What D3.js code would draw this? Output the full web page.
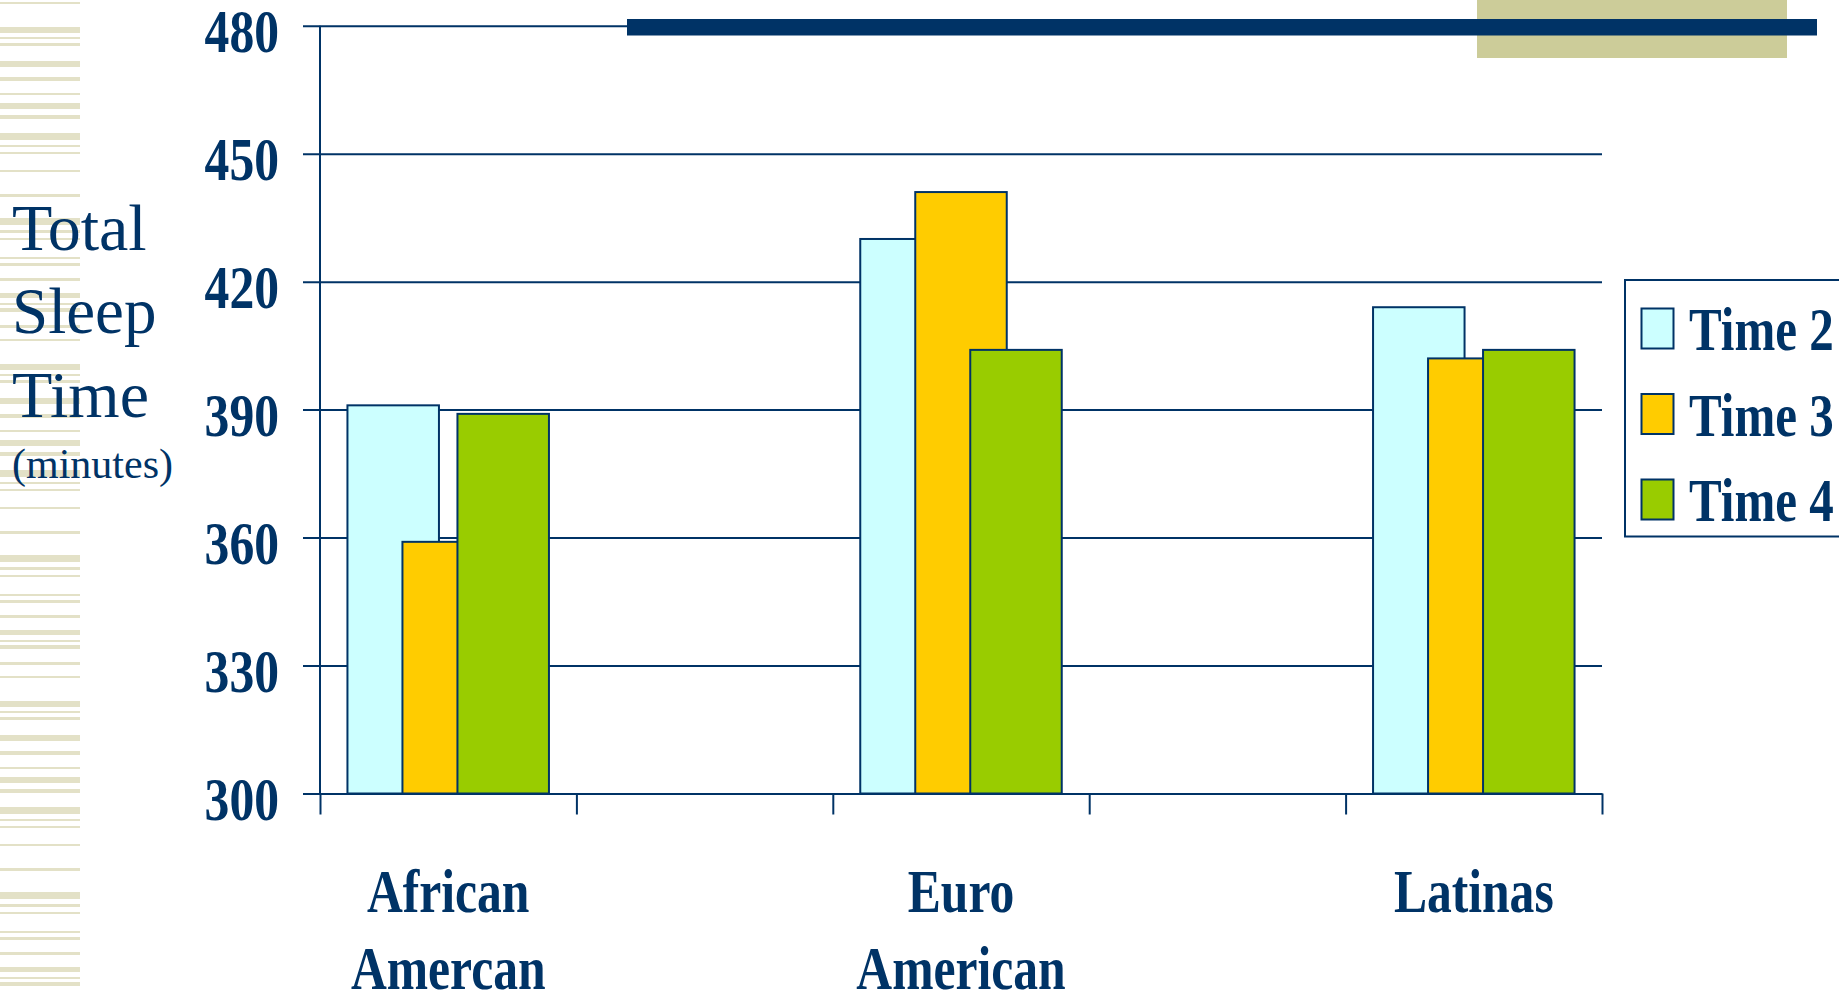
<!DOCTYPE html>
<html>
<head>
<meta charset="utf-8">
<script src="https://cdn.jsdelivr.net/npm/d3@7"></script>
<style>
  html, body { margin: 0; padding: 0; background: #fff; overflow: hidden; }
  svg { display: block; }
  text { font-family: "Liberation Serif", "Times New Roman", serif; fill: #003366; }
</style>
</head>
<body>
<svg width="1839" height="991"></svg>
<script>
// chart values
const categories = ["African Amercan", "gap1", "Euro American", "gap2", "Latinas"];
const categoryLabels = {
  "African Amercan": ["African", "Amercan"],
  "Euro American": ["Euro", "American"],
  "Latinas": ["Latinas"]
};
const series = ["Time 2", "Time 3", "Time 4"];
const time2 = [391, null, 430, null, 414];
const time3 = [359, null, 441, null, 402];
const time4 = [389, null, 404, null, 404];
const yTicks = [300, 330, 360, 390, 420, 450, 480];
const colors = ["#ccffff", "#ffcc00", "#99cc00"];

const NAVY = "#003366",
  SQUEEZE = 0.8; // the slide is squashed sideways

const svg = d3.select("svg");

// left decorative stripes, one tile repeated
const stripeTile = [[2,2],[27,6],[37,2],[43,3],[61,6],[77,4],[93,2],[103,6],[115,4],[133,7],
  [145,2],[152,2],[170,2],[194,3],[218,7],[230,3],[238,2],[257,2],[263,3],[278,3],[293,5],
  [303,2],[308,4],[325,3]];
const stripes = [];
for (let k = 0; k < 3; k++) stripeTile.forEach(([y, h]) => stripes.push([y + k * 337, h]));
svg.append("g").selectAll("rect").data(stripes).join("rect")
  .attr("x", 0).attr("width", 80)
  .attr("y", d => d[0]).attr("height", d => d[1])
  .attr("fill", "#e3e1c7");

const plot = { left: 320, right: 1602, top: 25.7, bottom: 793.5 };

const x = d3.scaleBand().domain(categories).range([plot.left, plot.right]).padding(0);
const xEdges = d3.scaleLinear().domain([0, categories.length]).range([plot.left, plot.right]);
const offset = d3.scalePoint().domain(series).range([-55, 55]);
const barW = 91.5;
const y = d3.scaleLinear().domain([300, 480]).range([plot.bottom, plot.top]);

// gridlines + left ticks + labels
const yAxisG = svg.append("g")
  .attr("transform", `translate(${plot.left - 17},0)`)
  .call(d3.axisLeft(y).tickValues(yTicks).tickSizeInner(-(plot.right - plot.left + 17)).tickSizeOuter(0).tickPadding(0));
yAxisG.select(".domain").remove();
yAxisG.selectAll(".tick line").attr("stroke", NAVY).attr("stroke-width", 2);
yAxisG.selectAll(".tick text")
  .attr("x", null).attr("dy", null)
  .attr("transform", `translate(-24,26) scale(${SQUEEZE},1)`)
  .attr("text-anchor", "end")
  .attr("font-size", 62).attr("font-weight", "bold")
  .attr("font-family", "'Liberation Serif', serif")
  .attr("fill", NAVY);

// bars
const valueSets = [time2, time3, time4];
const rows = [];
series.forEach((s, i) => categories.forEach((c, j) => {
  if (valueSets[i][j] != null) rows.push({ series: s, cat: c, value: valueSets[i][j], color: colors[i] });
}));
svg.append("g").selectAll("rect").data(rows).join("rect")
  .attr("x", d => x(d.cat) + x.bandwidth() / 2 + offset(d.series) - barW / 2)
  .attr("y", d => y(d.value))
  .attr("width", barW)
  .attr("height", d => y(300) - y(d.value))
  .attr("fill", d => d.color)
  .attr("stroke", NAVY)
  .attr("stroke-width", 2);

// axes lines
svg.append("line")
  .attr("x1", plot.left).attr("x2", plot.left)
  .attr("y1", plot.top).attr("y2", plot.bottom)
  .attr("stroke", NAVY).attr("stroke-width", 2);

const xAxisG = svg.append("g")
  .attr("transform", `translate(0,${plot.bottom})`)
  .call(d3.axisBottom(xEdges).tickValues(d3.range(categories.length + 1)).tickFormat("").tickSizeInner(21).tickSizeOuter(0));
xAxisG.select(".domain").attr("stroke", NAVY).attr("stroke-width", 2);
xAxisG.selectAll(".tick line").attr("stroke", NAVY).attr("stroke-width", 2);

// category labels
const labelG = svg.append("g").selectAll("g")
  .data(categories.filter(c => categoryLabels[c]))
  .join("g");
labelG.selectAll("text").data(c => categoryLabels[c].map((t, i) => ({ t, i, c }))).join("text")
  .attr("transform", d => `translate(${x(d.c) + x.bandwidth() / 2},${912 + d.i * 77}) scale(${SQUEEZE},1)`)
  .attr("text-anchor", "middle")
  .attr("font-size", 62).attr("font-weight", "bold")
  .text(d => d.t);

// y title
const titleLines = [["Total", 250, 66], ["Sleep", 333, 65], ["Time", 417, 66], ["(minutes)", 478, 42]];
svg.append("g").selectAll("text").data(titleLines).join("text")
  .attr("x", 12).attr("y", d => d[1])
  .attr("font-size", d => d[2])
  .text(d => d[0]);

// legend
const legendG = svg.append("g").attr("transform", "translate(1625,280)");
legendG.append("rect")
  .attr("width", 240).attr("height", 256.5)
  .attr("fill", "#fff").attr("stroke", NAVY).attr("stroke-width", 2);
const item = legendG.selectAll("g.item").data(series).join("g")
  .attr("class", "item")
  .attr("transform", (d, i) => `translate(0,${28.5 + i * 85.5})`);
item.append("rect")
  .attr("x", 16.5).attr("width", 32).attr("height", 40)
  .attr("fill", (d, i) => colors[i])
  .attr("stroke", NAVY).attr("stroke-width", 2);
item.append("text")
  .attr("transform", `translate(64,41.5) scale(0.79,1)`)
  .attr("font-size", 62).attr("font-weight", "bold")
  .text(d => d);

// slide header decoration
svg.append("rect").attr("x", 1477).attr("y", 0).attr("width", 310).attr("height", 58).attr("fill", "#cccc99");
svg.append("rect").attr("x", 627).attr("y", 19).attr("width", 1190).attr("height", 16.5).attr("fill", NAVY);
</script>
</body>
</html>
